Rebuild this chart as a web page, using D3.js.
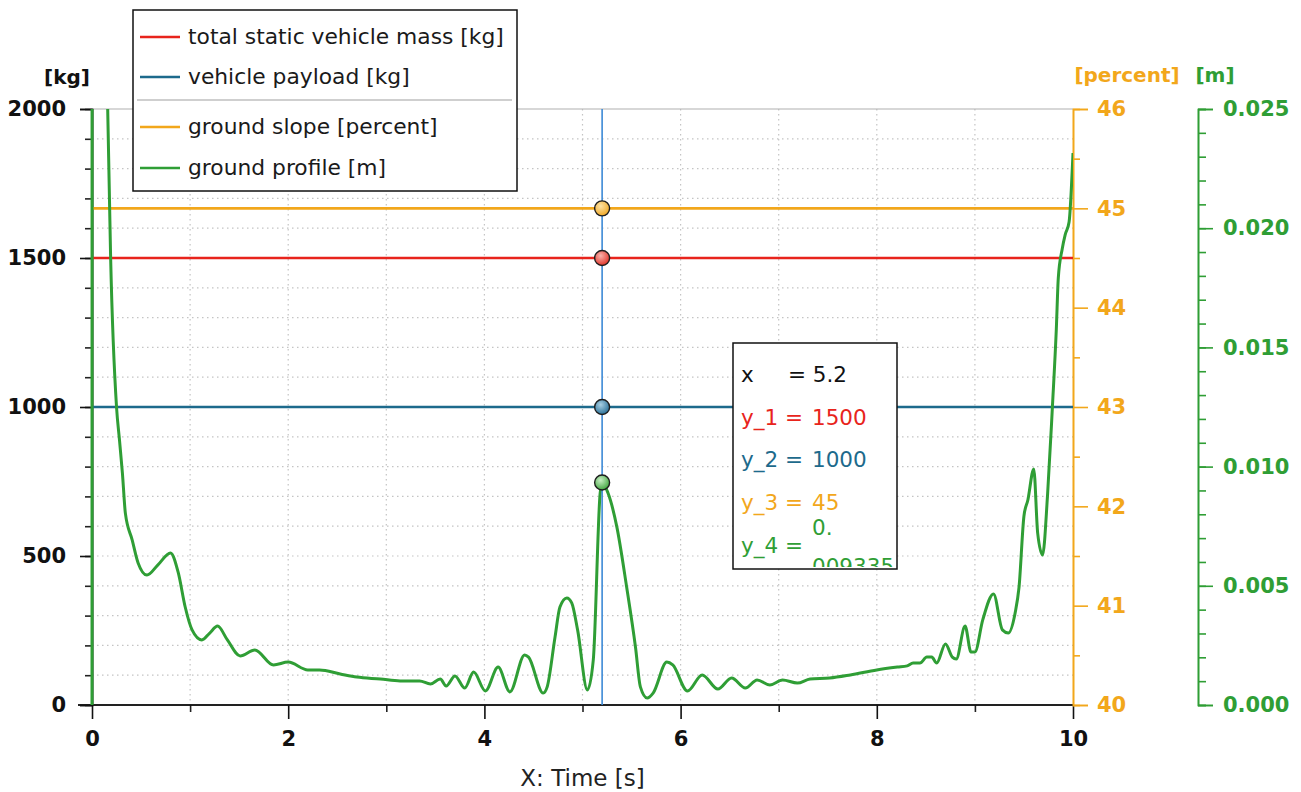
<!DOCTYPE html>
<html>
<head>
<meta charset="utf-8">
<script src="https://cdn.jsdelivr.net/npm/d3@7"></script>
<style>
  body { margin: 0; background: #ffffff; }
  svg { display: block; }
</style>
</head>
<body>
<div id="chart"></div>
<script>
// ground profile samples, time in s and height in m
var timeS = [0, 0.01, 0.10, 0.16, 0.19, 0.25, 0.28, 0.31, 0.34, 0.41, 0.47, 0.56, 0.67, 0.80, 0.88, 0.95,
  1.02, 1.12, 1.20, 1.28, 1.38, 1.51, 1.66, 1.85, 2.00, 2.20, 2.32, 2.53, 2.70, 2.94, 3.14, 3.34,
  3.45, 3.55, 3.61, 3.70, 3.80, 3.89, 4.01, 4.14, 4.26, 4.41, 4.45, 4.60, 4.64, 4.72, 4.77, 4.84,
  4.89, 4.95, 5.05, 5.11, 5.18, 5.20, 5.26, 5.35, 5.45, 5.54, 5.59, 5.66, 5.72, 5.86, 5.92, 6.07,
  6.22, 6.38, 6.52, 6.66, 6.78, 6.91, 7.04, 7.19, 7.32, 7.52, 7.73, 8.00, 8.21, 8.31, 8.37, 8.44,
  8.51, 8.56, 8.61, 8.70, 8.77, 8.81, 8.90, 8.96, 9.00, 9.08, 9.19, 9.28, 9.34, 9.41, 9.45, 9.50,
  9.54, 9.60, 9.64, 9.69, 9.74, 9.79, 9.83, 9.85, 9.89, 9.92, 9.96, 10.00];
var profileM = [0, 0.5, 0.045, 0.025, 0.01875, 0.0125, 0.01112, 0.00973, 0.00805, 0.00692, 0.00596, 0.00545, 0.00587, 0.00638, 0.00554, 0.00411,
  0.00315, 0.00273, 0.00302, 0.00331, 0.00273, 0.00206, 0.00231, 0.00168, 0.00180, 0.00147, 0.00147, 0.00130, 0.00117, 0.00109, 0.00101, 0.00101,
  0.00088, 0.00109, 0.00080, 0.00122, 0.00071, 0.00138, 0.00059, 0.00159, 0.00055, 0.00210, 0.00201, 0.00050, 0.00076, 0.00285, 0.00411, 0.00449,
  0.00428, 0.00315, 0.00063, 0.00189, 0.00889, 0.009335, 0.00889, 0.00747, 0.00495, 0.00243, 0.00076, 0.00029, 0.00050, 0.00180, 0.00168, 0.00059,
  0.00126, 0.00067, 0.00113, 0.00071, 0.00105, 0.00084, 0.00105, 0.00092, 0.00109, 0.00113, 0.00126, 0.00147, 0.00159, 0.00164, 0.00176, 0.00176,
  0.00201, 0.00201, 0.00176, 0.00256, 0.00201, 0.00193, 0.00331, 0.00222, 0.00222, 0.00357, 0.00466, 0.00315, 0.00302, 0.00386, 0.00495, 0.00793,
  0.00860, 0.00990, 0.00721, 0.00629, 0.00877, 0.0125, 0.01577, 0.01791, 0.01913, 0.01972, 0.02026, 0.02315];

// constant signals
var constTime = [0, 10];
var totalMassKg = [1500, 1500];
var payloadKg = [1000, 1000];
var slopePercent = [45, 45];

// cursor readout
var cursorX = 5.2;
var cursorLabels = ["y_1", "y_2", "y_3", "y_4"];
var cursorValues = ["1500", "1000", "45", "0.009335"];

var legendNames = ["total static vehicle mass [kg]", "vehicle payload [kg]", "ground slope [percent]", "ground profile [m]"];

// tick values
var xMajor = [0, 2, 4, 6, 8, 10];
var xMinor = [1, 3, 5, 7, 9];
var kgMajor = [0, 500, 1000, 1500, 2000];
var pctMajor = [40, 41, 42, 43, 44, 45, 46];
var mMajor = [0, 0.005, 0.010, 0.015, 0.020, 0.025];

var red = "#e8241c", blue = "#1d6a8c", orange = "#f2a71b", green = "#2f9e35";

var width = 1301, height = 792;
var pLeft = 92, pRight = 1073, pTop = 109, pBottom = 705;

var svg = d3.select("#chart").append("svg")
    .attr("width", width)
    .attr("height", height)
    .style("font-family", "'DejaVu Sans', sans-serif");

var x = d3.scaleLinear().domain([0, 10]).range([pLeft, pRight]);
var yKg = d3.scaleLinear().domain([0, 2000]).range([pBottom, pTop]);
var yPct = d3.scaleLinear().domain([40, 46]).range([pBottom, pTop]);
var yM = d3.scaleLinear().domain([0, 0.025]).range([pBottom, pTop]);

var defs = svg.append("defs");
defs.append("clipPath").attr("id", "plotclip")
    .append("rect").attr("x", pLeft - 2).attr("y", pTop).attr("width", pRight - pLeft + 2).attr("height", pBottom - pTop);

// grid
var grid = svg.append("g");
grid.selectAll("line.h").data(d3.range(100, 2000, 100)).enter().append("line")
    .attr("x1", pLeft).attr("x2", pRight)
    .attr("y1", d => yKg(d)).attr("y2", d => yKg(d))
    .style("stroke", "#c4c4c4").style("stroke-width", 1.2).style("stroke-dasharray", "1.5,3.5");
grid.selectAll("line.v").data(d3.range(1, 10, 1)).enter().append("line")
    .attr("y1", pTop).attr("y2", pBottom)
    .attr("x1", d => x(d)).attr("x2", d => x(d))
    .style("stroke", "#c4c4c4").style("stroke-width", 1.2).style("stroke-dasharray", "1.5,3.5");
grid.append("line").attr("x1", pLeft).attr("x2", pRight).attr("y1", pTop).attr("y2", pTop)
    .style("stroke", "#b0b0b0").style("stroke-width", 1.2);

// axes
function styleAxis(g, color, bold) {
    g.selectAll("path.domain").style("stroke", color).style("stroke-width", 1.6);
    g.selectAll(".tick line").style("stroke", color).style("stroke-width", 1.6);
    g.selectAll("text").style("fill", color).style("font-size", "21px")
        .style("font-family", "'DejaVu Sans', sans-serif").style("font-weight", bold ? "bold" : "normal");
}

var gx = svg.append("g").attr("transform", "translate(0," + pBottom + ")");
gx.append("g").call(d3.axisBottom(x).tickValues(xMinor).tickSize(7).tickFormat("")).call(g => styleAxis(g, "#222", true));
gx.append("g").call(d3.axisBottom(x).tickValues(xMajor).tickSize(14).tickPadding(12).tickFormat(d3.format("d"))).call(g => styleAxis(g, "#111", true));
gx.selectAll("path.domain").attr("d", "M" + (pLeft - 14) + ",0H" + pRight);

var gy = svg.append("g").attr("transform", "translate(" + pLeft + ",0)");
gy.append("g").call(d3.axisLeft(yKg).tickValues(d3.range(100, 2000, 100)).tickSize(7).tickFormat("")).call(g => styleAxis(g, "#222", true));
gy.append("g").call(d3.axisLeft(yKg).tickValues(kgMajor).tickSize(12).tickPadding(14).tickFormat(d3.format("d"))).call(g => styleAxis(g, "#111", true));

var gp = svg.append("g").attr("transform", "translate(" + pRight + ",0)");
gp.append("g").call(d3.axisRight(yPct).tickValues(d3.range(40.5, 46, 1)).tickSize(7).tickFormat("")).call(g => styleAxis(g, orange, true));
gp.append("g").call(d3.axisRight(yPct).tickValues(pctMajor).tickSize(15).tickPadding(9).tickFormat(d3.format("d"))).call(g => styleAxis(g, orange, true));

var gm = svg.append("g").attr("transform", "translate(1198,0)");
gm.append("g").call(d3.axisRight(yM).tickValues(d3.range(0, 0.0251, 0.001)).tickSize(8).tickFormat("")).call(g => styleAxis(g, green, true));
gm.append("g").call(d3.axisRight(yM).tickValues(mMajor).tickSize(15).tickPadding(10).tickFormat(d3.format(".3f"))).call(g => styleAxis(g, green, true));

// axis titles
svg.append("text").attr("x", 67).attr("y", 84).attr("text-anchor", "middle")
    .style("font-size", "20px").style("font-weight", "bold").style("fill", "#111").text("[kg]");
svg.append("text").attr("x", 1127).attr("y", 82).attr("text-anchor", "middle")
    .style("font-size", "20px").style("font-weight", "bold").style("fill", orange).text("[percent]");
svg.append("text").attr("x", 1215).attr("y", 82).attr("text-anchor", "middle")
    .style("font-size", "20px").style("font-weight", "bold").style("fill", green).text("[m]");
svg.append("text").attr("x", (pLeft + pRight) / 2).attr("y", 786).attr("text-anchor", "middle")
    .style("font-size", "23px").style("fill", "#222").text("X: Time [s]");

// series
var plot = svg.append("g").attr("clip-path", "url(#plotclip)");

var flat = [
    { t: constTime, v: slopePercent, y: yPct, color: orange },
    { t: constTime, v: totalMassKg, y: yKg, color: red },
    { t: constTime, v: payloadKg, y: yKg, color: blue }
];
flat.forEach(function (s) {
    var line = d3.line().x((d, i) => x(s.t[i])).y(d => s.y(d));
    plot.append("path").attr("d", line(s.v))
        .style("fill", "none").style("stroke", s.color).style("stroke-width", 2.6);
});

var profileLine = d3.line()
    .x((d, i) => x(timeS[i]))
    .y(d => yM(d))
    .curve(d3.curveMonotoneX);
plot.append("path").attr("d", profileLine(profileM))
    .style("fill", "none").style("stroke", green).style("stroke-width", 3)
    .style("stroke-linejoin", "round");

// cursor
svg.append("line").attr("x1", x(cursorX)).attr("x2", x(cursorX)).attr("y1", pTop).attr("y2", pBottom)
    .style("stroke", "#3d8ad6").style("stroke-width", 1.6);

var markers = [
    { id: "mk0", y: yPct(slopePercent[0]), light: "#fde3a6", fill: "#f0aa2a" },
    { id: "mk1", y: yKg(totalMassKg[0]), light: "#f9b3ad", fill: "#e2382d" },
    { id: "mk2", y: yKg(payloadKg[0]), light: "#a9cfe2", fill: "#2c7299" },
    { id: "mk3", y: yM(+cursorValues[3]), light: "#c8eec4", fill: "#45a843" }
];
markers.forEach(function (m) {
    var grad = defs.append("radialGradient").attr("id", m.id).attr("cx", "40%").attr("cy", "35%").attr("r", "65%");
    grad.append("stop").attr("offset", "0%").attr("stop-color", m.light);
    grad.append("stop").attr("offset", "100%").attr("stop-color", m.fill);
});
svg.selectAll("circle.mk").data(markers).enter().append("circle")
    .attr("cx", x(cursorX)).attr("cy", d => d.y).attr("r", 7.5)
    .style("fill", d => "url(#" + d.id + ")").style("stroke", "#1e1e1e").style("stroke-width", 1.4);

// legend
var legend = svg.append("g");
legend.append("rect").attr("x", 133).attr("y", 10).attr("width", 384).attr("height", 181)
    .style("fill", "#ffffff").style("stroke", "#111").style("stroke-width", 1.5);
legend.append("line").attr("x1", 137).attr("x2", 512).attr("y1", 100).attr("y2", 100)
    .style("stroke", "#a0a0a0").style("stroke-width", 1.2);
var legendColors = [red, blue, orange, green];
var legendY = [37, 77, 127, 168];
legendNames.forEach(function (name, i) {
    legend.append("line").attr("x1", 140).attr("x2", 180).attr("y1", legendY[i]).attr("y2", legendY[i])
        .style("stroke", legendColors[i]).style("stroke-width", 2.6);
    legend.append("text").attr("x", 188).attr("y", legendY[i] + 7)
        .style("font-size", "21.8px").style("fill", "#1a1a1a").text(name);
});

// cursor readout box
var tip = svg.append("g");
tip.append("clipPath").attr("id", "tipclip")
    .append("rect").attr("x", 733).attr("y", 343).attr("width", 164).attr("height", 224);
tip.append("rect").attr("x", 733).attr("y", 343).attr("width", 164).attr("height", 226)
    .style("fill", "#ffffff").style("stroke", "#111").style("stroke-width", 1.5);
var tipText = tip.append("g").attr("clip-path", "url(#tipclip)")
    .style("font-size", "21.5px");
tipText.append("text").attr("x", 741).attr("y", 382).style("fill", "#111").text("x");
tipText.append("text").attr("x", 788).attr("y", 382).style("fill", "#111").text("= " + cursorX);
var tipColors = [red, blue, orange, green];
var tipY = [425, 467, 510, 553];
cursorLabels.forEach(function (lab, i) {
    tipText.append("text").attr("x", 741).attr("y", tipY[i]).style("fill", tipColors[i]).text(lab + " =");
    if (i < 3) {
        tipText.append("text").attr("x", 812).attr("y", tipY[i]).style("fill", tipColors[i]).text(cursorValues[i]);
    } else {
        // value wraps inside the narrow box and its second line is cut by the box
        var v = cursorValues[i];
        tipText.append("text").attr("x", 812).attr("y", 535).style("fill", tipColors[i]).text(v.slice(0, 2));
        tipText.append("text").attr("x", 812).attr("y", 574).style("fill", tipColors[i]).text(v.slice(2));
    }
});
</script>
</body>
</html>
